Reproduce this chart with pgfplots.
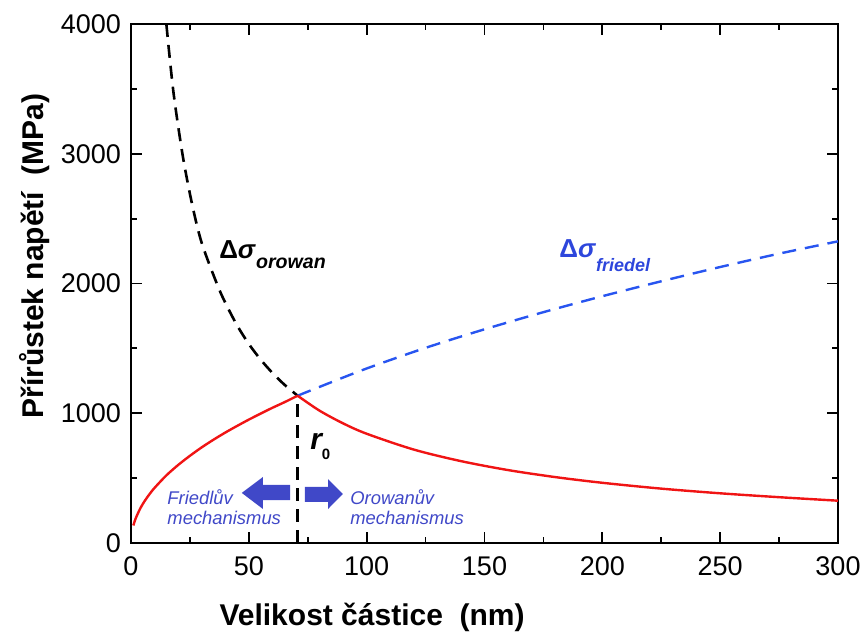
\documentclass[border=0pt]{standalone}
\usepackage{fontspec}
\setmainfont{Liberation Sans}
\usepackage{pgfplots}
\pgfplotsset{compat=1.18}
\definecolor{redline}{RGB}{240,20,20}
\definecolor{blueline}{RGB}{40,85,240}
\definecolor{bluetext}{RGB}{45,70,220}
\definecolor{mechblue}{RGB}{64,72,200}
\begin{document}
\begin{tikzpicture}
\useasboundingbox (-65.5pt,-46pt) rectangle (367.5pt,271.5pt);
\begin{axis}[
  at={(0,0)}, anchor=south west,
  scale only axis, width=353.5pt, height=259.5pt,
  xmin=0, xmax=300, ymin=0, ymax=4000,
  xtick={0,50,...,300}, ytick={0,1000,...,4000},
  minor x tick num=1, minor y tick num=1,
  tick align=inside,
  major tick length=5.5pt, minor tick length=3pt,
  axis line style={line width=1pt},
  every tick/.style={line width=0.9pt, black},
  tick label style={font=\fontsize{13.5}{15}\selectfont},
  xticklabel style={yshift=-3.5pt},
  yticklabel style={xshift=-1.5pt},
  /pgf/number format/assume math mode=true,
  /pgf/number format/1000 sep={},
  xlabel={\fontsize{15}{17}\selectfont\bfseries Velikost částice\ \ (nm)},
  ylabel={\fontsize{15}{17}\selectfont\bfseries Přírůstek napětí\ \ (MPa)},
  xlabel style={at={(axis description cs:0.341,-0.1426)}, anchor=center},
  ylabel style={at={(axis description cs:-0.1365,0.553)}, anchor=center},
]
% Orowan (black dashed)
\addplot[black, line width=1.3pt, dash pattern=on 6.5pt off 4pt, smooth] coordinates {
(15,4000)(18,3476)(22,2980)(26,2605)(30,2313)(36.4,2000)(40,1852)(45,1678)
(50,1534)(55,1414)(60,1311)(65,1222)(70.7,1135)};
% vertical r0 line
\addplot[black, line width=1.3pt, dash pattern=on 6.5pt off 4pt] coordinates {(70.7,0)(70.7,1135)};
% Friedel continuation (blue dashed)
\addplot[blueline, line width=1.2pt, dash pattern=on 7pt off 4.5pt, smooth] coordinates {
(70.7,1135)(80,1203)(100,1345)(125,1504)(150,1647)(175,1779)(200,1902)
(225,2017)(250,2127)(275,2230)(300,2325)};
% resulting strength (red)
\addplot[redline, line width=1.2pt, smooth] coordinates {
(1,135)(2,190)(4,269)(6,329)(8,380)(10,425)(15,521)(20,601)(25,672)(30,737)
(35,796)(40,851)(45,902)(50,951)(55,997)(60,1042)(65,1084)(70.7,1135)};
\addplot[redline, line width=1.2pt, smooth] coordinates {
(70.7,1135)(80,1020)(90,922)(100,842)(120,720)(140,631)(160,562)(180,508)
(200,464)(225,419)(250,383)(275,353)(300,326)};
% arrows
\fill[mechblue] (axis cs:47,386) -- (axis cs:56,509) -- (axis cs:56,447) -- (axis cs:67.5,447)
  -- (axis cs:67.5,331) -- (axis cs:56,331) -- (axis cs:56,262) -- cycle;
\fill[mechblue] (axis cs:73.8,432) -- (axis cs:83.6,432) -- (axis cs:83.6,493) -- (axis cs:89.9,378)
  -- (axis cs:83.6,262) -- (axis cs:83.6,316) -- (axis cs:73.8,316) -- cycle;
% labels
\node[anchor=base west, inner sep=0pt] at (axis cs:37.3,2196)
  {\fontsize{13}{15}\selectfont\bfseries Δ\textit{σ}\raisebox{-5pt}{\fontsize{9.8}{11}\selectfont\bfseries\itshape orowan}};
\node[anchor=base west, inner sep=0pt, text=bluetext] at (axis cs:181.6,2204)
  {\fontsize{13}{15}\selectfont\bfseries Δ\textit{σ}\raisebox{-7pt}{\fontsize{9}{10}\selectfont\itshape friedel}};
\node[anchor=base west, inner sep=0pt] at (axis cs:75.9,717)
  {\fontsize{15}{17}\selectfont\bfseries\itshape r\raisebox{-5pt}{\fontsize{7.5}{9}\selectfont\upshape 0}};
\node[anchor=base west, inner sep=0pt, text=mechblue] at (axis cs:15.3,293)
  {\fontsize{9.2}{10}\selectfont\itshape Friedlův};
\node[anchor=base west, inner sep=0pt, text=mechblue] at (axis cs:15.3,139)
  {\fontsize{9.2}{10}\selectfont\itshape mechanismus};
\node[anchor=base west, inner sep=0pt, text=mechblue] at (axis cs:92.9,293)
  {\fontsize{9.2}{10}\selectfont\itshape Orowanův};
\node[anchor=base west, inner sep=0pt, text=mechblue] at (axis cs:92.9,139)
  {\fontsize{9.2}{10}\selectfont\itshape mechanismus};
\end{axis}
\end{tikzpicture}
\end{document}
